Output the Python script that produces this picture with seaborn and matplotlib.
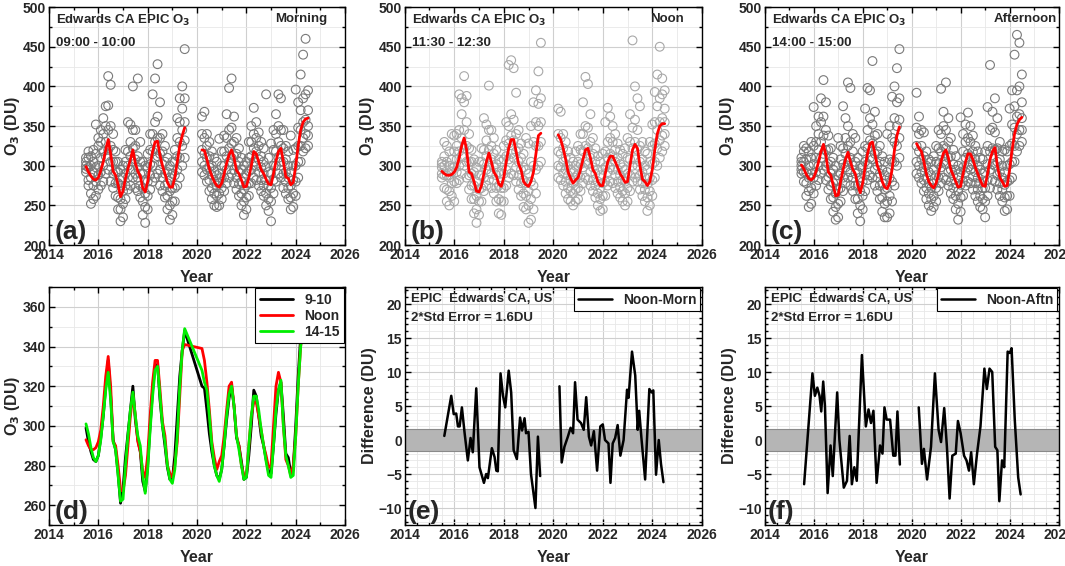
import numpy as np
import matplotlib
matplotlib.use('Agg')
import matplotlib.pyplot as plt
import seaborn as sns
from matplotlib.ticker import MultipleLocator

# sample times (decimal year) for the two EPIC data periods
t1 = np.round(np.arange(2015.5, 2019.55, 0.1), 1)
t2 = np.round(np.arange(2020.2, 2024.55, 0.1), 1)

# smoothed O3 (DU), morning / noon / afternoon
morn_fit1 = [299, 292, 287, 283, 282, 285, 294, 305, 320, 333, 315, 293, 288, 276, 261, 268, 284, 296, 308, 320,
             303, 293, 287, 272, 267, 280, 300, 318, 330, 331, 313, 300, 290, 279, 273, 273, 285, 305, 325, 338, 348]
morn_fit2 = [320, 319, 308, 296, 287, 280, 275, 273, 278, 290, 303, 314, 320, 310, 294, 290, 282, 273, 274, 285, 300, 318,
             315, 305, 295, 290, 283, 277, 276, 290, 306, 318, 322, 305, 286, 284, 276, 279, 300, 325, 345, 355, 359, 360]
noon_fit1 = [293, 290, 288, 288, 289, 292, 298, 310, 325, 335, 320, 292, 290, 280, 268, 267, 275, 290, 305, 316,
             305, 292, 287, 277, 274, 285, 305, 322, 333, 333, 318, 302, 295, 280, 276, 274, 280, 292, 315, 338, 341]
noon_fit2 = [339, 333, 322, 308, 292, 284, 278, 282, 285, 295, 308, 320, 322, 310, 295, 290, 280, 275, 275, 290, 305, 312,
             312, 305, 298, 290, 285, 279, 280, 300, 320, 327, 322, 300, 283, 280, 275, 280, 295, 320, 340, 350, 353, 353]
aftn_fit1 = [301, 296, 289, 284, 282, 285, 293, 305, 318, 327, 313, 292, 288, 275, 262, 263, 280, 295, 308, 317,
             305, 295, 290, 275, 266, 278, 298, 315, 328, 330, 315, 300, 292, 280, 273, 271, 278, 295, 320, 338, 349]
aftn_fit2 = [328, 322, 318, 305, 290, 280, 275, 272, 278, 290, 305, 316, 320, 310, 295, 288, 280, 273, 274, 290, 305, 315,
             315, 308, 298, 290, 282, 275, 274, 290, 308, 318, 323, 300, 285, 280, 274, 275, 295, 320, 340, 352, 358, 361]

# individual observations, five read per sample time
morn_obs1 = [
    [300, 296, 305, 292, 310], [282, 298, 310, 275, 318], [265, 285, 300, 252, 312], [258, 275, 292, 305, 320],
    [262, 280, 298, 315, 352], [270, 288, 300, 325, 335], [275, 292, 310, 330, 345], [280, 300, 318, 340, 360],
    [290, 312, 330, 350, 375], [295, 320, 345, 376, 413], [280, 305, 325, 350, 402], [272, 290, 305, 320, 340],
    [262, 278, 292, 305, 318], [245, 260, 278, 292, 305], [230, 245, 258, 275, 295], [235, 252, 268, 285, 300],
    [258, 275, 290, 305, 320], [270, 285, 300, 318, 355], [275, 295, 312, 330, 352], [285, 305, 322, 345, 400],
    [272, 290, 308, 325, 345], [268, 285, 298, 312, 410], [260, 275, 290, 305, 330], [238, 255, 272, 290, 305],
    [228, 248, 265, 282, 300], [245, 262, 280, 298, 315], [270, 288, 302, 320, 340], [280, 300, 318, 340, 390],
    [285, 310, 330, 355, 410], [290, 312, 335, 362, 428], [275, 295, 315, 335, 380], [268, 285, 302, 318, 340],
    [260, 275, 290, 305, 325], [245, 262, 278, 292, 310], [232, 250, 268, 285, 300], [238, 255, 272, 290, 305],
    [255, 272, 288, 305, 320], [275, 295, 312, 335, 360], [285, 310, 330, 355, 385], [300, 325, 345, 372, 400],
    [310, 332, 355, 385, 447]]
morn_obs2 = [
    [292, 305, 320, 340, 362], [288, 300, 315, 335, 368], [280, 295, 310, 325, 340], [268, 282, 298, 312, 330],
    [258, 272, 288, 300, 318], [250, 265, 280, 293, 310], [248, 262, 275, 288, 305], [250, 265, 278, 290, 334],
    [258, 272, 285, 300, 318], [268, 285, 300, 318, 338], [278, 295, 312, 335, 365], [285, 305, 322, 345, 398],
    [290, 310, 328, 348, 410], [278, 295, 312, 330, 362], [270, 285, 300, 315, 335], [262, 277, 292, 305, 322],
    [250, 265, 280, 295, 310], [238, 255, 270, 285, 300], [245, 260, 275, 290, 305], [262, 278, 293, 310, 330],
    [278, 295, 312, 330, 350], [285, 305, 322, 340, 373], [282, 300, 318, 335, 355], [275, 292, 308, 325, 342],
    [268, 282, 298, 312, 330], [262, 275, 290, 305, 322], [250, 265, 282, 298, 390], [243, 258, 275, 292, 310],
    [230, 255, 272, 290, 328], [265, 282, 300, 320, 345], [280, 300, 318, 340, 365], [290, 310, 330, 350, 390],
    [285, 305, 325, 345, 385], [272, 290, 305, 322, 345], [265, 280, 292, 308, 325], [258, 272, 285, 300, 318],
    [245, 260, 275, 292, 338], [248, 265, 282, 300, 320], [262, 280, 300, 322, 396], [285, 305, 325, 348, 380],
    [305, 325, 345, 370, 415], [318, 335, 355, 385, 440], [322, 340, 358, 390, 460], [325, 338, 350, 370, 395]]
noon_obs1 = [
    [290, 298, 305, 285, 302], [272, 288, 300, 312, 330], [255, 270, 288, 305, 325], [250, 268, 285, 300, 318],
    [262, 278, 292, 308, 340], [255, 280, 298, 318, 338], [278, 292, 308, 325, 340], [282, 300, 318, 345, 390],
    [290, 312, 335, 365, 385], [300, 322, 345, 380, 413], [285, 305, 325, 355, 388], [270, 288, 305, 322, 340],
    [258, 275, 290, 305, 320], [240, 258, 275, 292, 308], [228, 245, 262, 280, 298], [238, 255, 270, 288, 305],
    [255, 272, 288, 305, 322], [268, 285, 302, 320, 360], [275, 295, 312, 332, 352], [282, 300, 320, 345, 401],
    [272, 290, 308, 325, 345], [265, 282, 298, 315, 335], [255, 272, 288, 302, 320], [240, 258, 275, 292, 308],
    [238, 255, 272, 290, 305], [255, 272, 290, 308, 325], [275, 295, 312, 332, 355], [285, 308, 328, 350, 427],
    [290, 315, 338, 365, 433], [288, 310, 332, 358, 423], [280, 298, 318, 340, 392], [270, 288, 305, 322, 345],
    [262, 278, 295, 310, 328], [248, 265, 282, 298, 315], [245, 262, 278, 295, 335], [228, 250, 268, 290, 328],
    [232, 258, 280, 305, 350], [245, 275, 300, 330, 380], [265, 295, 325, 355, 395], [300, 325, 350, 378, 419],
    [305, 330, 355, 385, 455]]
noon_obs2 = [
    [285, 300, 318, 340, 372], [282, 298, 315, 335, 368], [275, 290, 305, 322, 340], [265, 280, 295, 310, 330],
    [258, 272, 288, 300, 318], [255, 268, 282, 295, 310], [250, 265, 278, 292, 305], [255, 270, 285, 300, 318],
    [258, 272, 288, 305, 325], [268, 285, 302, 320, 340], [278, 298, 318, 340, 380], [285, 305, 325, 350, 412],
    [282, 302, 322, 348, 403], [275, 292, 310, 330, 365], [268, 282, 298, 315, 335], [260, 275, 290, 305, 322],
    [250, 265, 280, 295, 312], [243, 258, 272, 288, 305], [245, 262, 278, 295, 315], [262, 280, 298, 318, 355],
    [275, 292, 310, 330, 373], [280, 298, 315, 335, 362], [278, 295, 312, 330, 350], [272, 288, 305, 320, 340],
    [265, 280, 295, 310, 328], [260, 273, 288, 302, 320], [255, 268, 282, 298, 315], [250, 265, 280, 295, 322],
    [255, 272, 290, 310, 335], [268, 288, 308, 330, 365], [280, 300, 322, 348, 458], [285, 308, 330, 358, 400],
    [280, 300, 320, 345, 385], [270, 288, 305, 325, 375], [262, 278, 292, 308, 330], [255, 270, 285, 300, 318],
    [243, 260, 277, 295, 315], [250, 268, 285, 305, 330], [262, 282, 302, 325, 352], [285, 305, 328, 355, 393],
    [300, 322, 345, 375, 415], [310, 332, 355, 385, 450], [318, 338, 360, 390, 410], [325, 340, 355, 372, 395]]
aftn_obs1 = [
    [295, 300, 305, 290, 310], [280, 292, 305, 318, 325], [262, 278, 292, 308, 322], [248, 268, 285, 300, 318],
    [252, 272, 290, 310, 330], [265, 285, 302, 325, 374], [275, 292, 310, 330, 350], [282, 300, 320, 340, 362],
    [290, 310, 330, 355, 385], [295, 315, 338, 362, 408], [282, 300, 320, 345, 380], [270, 286, 302, 320, 338],
    [258, 275, 290, 305, 322], [242, 260, 278, 295, 310], [232, 248, 265, 282, 300], [235, 252, 270, 288, 335],
    [255, 272, 290, 308, 325], [268, 285, 302, 322, 375], [278, 298, 315, 335, 360], [285, 305, 325, 350, 405],
    [275, 292, 310, 330, 398], [268, 285, 300, 318, 340], [258, 275, 290, 305, 335], [240, 258, 275, 292, 310],
    [230, 250, 268, 285, 300], [245, 262, 280, 298, 318], [268, 288, 305, 325, 372], [282, 302, 322, 345, 398],
    [288, 310, 332, 360, 395], [285, 308, 328, 352, 432], [275, 295, 315, 338, 368], [268, 285, 300, 318, 340],
    [258, 275, 290, 305, 325], [242, 260, 278, 295, 312], [235, 252, 270, 288, 305], [235, 255, 272, 292, 340],
    [240, 262, 285, 308, 350], [255, 280, 305, 335, 387], [275, 305, 330, 360, 400], [300, 325, 350, 380, 423],
    [310, 335, 358, 385, 447]]
aftn_obs2 = [
    [290, 305, 325, 348, 392], [285, 300, 318, 340, 362], [278, 292, 308, 325, 345], [268, 282, 298, 312, 342],
    [258, 272, 285, 300, 318], [250, 265, 278, 292, 308], [243, 258, 272, 288, 305], [248, 262, 278, 295, 312],
    [255, 272, 288, 305, 325], [268, 285, 302, 322, 345], [278, 298, 318, 340, 397], [285, 305, 325, 350, 368],
    [282, 302, 322, 345, 405], [275, 292, 310, 330, 360], [265, 280, 295, 312, 335], [258, 272, 288, 302, 320],
    [245, 262, 278, 295, 312], [232, 252, 268, 285, 300], [242, 260, 276, 292, 361], [262, 280, 298, 318, 340],
    [275, 292, 310, 330, 352], [280, 298, 315, 335, 367], [278, 295, 312, 330, 350], [270, 286, 302, 318, 338],
    [262, 278, 292, 308, 325], [255, 270, 285, 300, 318], [248, 262, 278, 295, 310], [245, 258, 272, 290, 308],
    [235, 255, 272, 292, 318], [262, 282, 302, 325, 374], [272, 295, 318, 345, 427], [282, 302, 322, 348, 368],
    [280, 300, 320, 342, 385], [270, 288, 305, 322, 360], [262, 278, 292, 308, 330], [255, 270, 285, 300, 318],
    [243, 260, 276, 292, 320], [245, 262, 280, 300, 318], [262, 282, 302, 325, 372], [285, 305, 328, 352, 395],
    [305, 325, 348, 375, 440], [318, 340, 362, 395, 465], [325, 345, 365, 400, 455], [330, 345, 360, 380, 415]]

# Noon minus Morning difference (DU)
nm_t1 = [2015.6, 2015.88, 2015.98, 2016.08, 2016.15, 2016.22, 2016.31, 2016.42, 2016.55, 2016.66, 2016.75, 2016.89,
         2017.02, 2017.2, 2017.29, 2017.36, 2017.52, 2017.63, 2017.7, 2017.76, 2017.87, 2017.97, 2018.06, 2018.2,
         2018.3, 2018.4, 2018.53, 2018.66, 2018.74, 2018.84, 2018.9, 2019.0, 2019.1, 2019.28, 2019.38, 2019.47]
nm_d1 = [0.6, 6.5, 3.8, 3.9, 2.0, 2.0, 4.8, 1.0, -3.0, 0.3, -1.8, 7.6,
         -4.0, -6.3, -5.0, -5.6, -1.2, -2.5, -4.5, -4.6, 9.8, 6.5, 4.8, 10.2,
         7.0, -1.5, -2.8, 3.3, 1.4, 3.2, 1.0, 1.2, -5.0, -10.0, 0.5, -5.3]
nm_t2 = [2020.25, 2020.34, 2020.45, 2020.59, 2020.7, 2020.8, 2020.88, 2020.98, 2021.12, 2021.23, 2021.33, 2021.44,
         2021.53, 2021.64, 2021.77, 2021.9, 2022.0, 2022.09, 2022.23, 2022.31, 2022.4, 2022.5, 2022.6, 2022.71,
         2022.84, 2022.98, 2023.04, 2023.18, 2023.31, 2023.41, 2023.47, 2023.56, 2023.71, 2023.88, 2023.97, 2024.04,
         2024.15, 2024.26, 2024.35, 2024.45]
nm_d2 = [7.9, -3.3, -1.0, 0.5, 1.8, 1.0, 8.5, 3.0, 2.5, 1.5, 6.3, 0.5,
         -0.8, 1.3, -4.5, 2.0, 2.3, 0.0, -0.5, -6.3, -0.5, 0.3, 2.2, -2.3,
         0.0, 7.4, 6.2, 13.0, 9.5, 1.5, 4.3, 0.3, -5.8, 7.5, 7.0, 7.3,
         -5.1, 0.0, -3.5, -6.2]

# Noon minus Afternoon difference (DU)
na_t1 = [2015.61, 2015.95, 2016.05, 2016.15, 2016.24, 2016.31, 2016.39, 2016.46, 2016.57, 2016.69, 2016.78, 2016.96,
         2017.05, 2017.23, 2017.36, 2017.47, 2017.56, 2017.66, 2017.76, 2017.97, 2018.13, 2018.24, 2018.34, 2018.44,
         2018.57, 2018.71, 2018.81, 2018.89, 2018.98, 2019.12, 2019.25, 2019.34, 2019.42, 2019.52]
na_d1 = [-6.5, 9.8, 6.5, 7.7, 6.5, 4.2, 8.6, 5.0, -7.8, -0.8, -5.3, 7.0,
         0.0, -7.0, -6.0, 0.6, -6.5, -4.0, -6.0, 12.5, 2.0, 4.5, 2.5, 4.3,
         -6.3, -0.8, -2.0, 4.8, 3.0, 3.0, -2.3, -2.3, 4.2, -3.6]
na_t2 = [2020.29, 2020.42, 2020.5, 2020.63, 2020.79, 2020.95, 2021.1, 2021.2, 2021.33, 2021.44, 2021.55, 2021.66,
         2021.8, 2021.89, 2022.0, 2022.14, 2022.24, 2022.34, 2022.43, 2022.54, 2022.67, 2022.81, 2022.97, 2023.07,
         2023.18, 2023.29, 2023.41, 2023.5, 2023.58, 2023.69, 2023.78, 2023.92, 2024.01, 2024.08, 2024.21, 2024.35,
         2024.45]
na_d2 = [4.8, -3.5, -1.3, -5.8, -1.0, 9.8, 1.5, -0.3, 4.7, -1.0, -8.6, -2.3,
         -2.0, 2.8, 1.0, -2.3, -3.0, -4.5, -1.8, -6.5, -2.0, 2.0, 10.5, 7.5,
         10.5, 10.0, -1.0, -1.5, -9.0, -3.0, -4.0, 13.0, 12.8, 13.5, 3.0, -5.5,
         -8.0]

std_err = 1.6

sns.set_theme(style='ticks')
plt.rcParams['font.family'] = ['Liberation Sans', 'DejaVu Sans']
plt.rcParams['font.weight'] = 'bold'
plt.rcParams['axes.labelweight'] = 'bold'

fig = plt.figure(figsize=(10.65, 5.66), dpi=100)
cols = [(0.046, 0.278), (0.380, 0.279), (0.718, 0.276)]
top_b, bot_b, h = 0.567, 0.0724, 0.4205
axes_top = [fig.add_axes([l, top_b, w, h]) for l, w in cols]
axes_bot = [fig.add_axes([l, bot_b, w, h]) for l, w in cols]


def style(ax, ymin, ymax, ymaj, ymin_step):
    ax.set_xlim(2014, 2026)
    ax.set_ylim(ymin, ymax)
    ax.xaxis.set_major_locator(MultipleLocator(2))
    ax.xaxis.set_minor_locator(MultipleLocator(1))
    ax.yaxis.set_major_locator(MultipleLocator(ymaj))
    ax.yaxis.set_minor_locator(MultipleLocator(ymin_step))
    ax.grid(True, which='major', color='#cfcfcf', lw=0.8, zorder=0)
    ax.grid(True, which='minor', color='#e8e8e8', lw=0.6, zorder=0)
    ax.set_axisbelow(True)
    ax.tick_params(which='both', direction='in', top=True, right=True, labelsize=10, width=1,
                   color='black', pad=2)
    ax.tick_params(which='major', length=4)
    ax.tick_params(which='minor', length=2)
    for s in ax.spines.values():
        s.set_color('black')
        s.set_linewidth(1)
    ax.set_xlabel('Year', fontsize=11.5, labelpad=6)


top_info = [
    (morn_obs1, morn_obs2, morn_fit1, morn_fit2, '#7a7a7a', '09:00 - 10:00', 'Morning', 0.94, '(a)'),
    (noon_obs1, noon_obs2, noon_fit1, noon_fit2, '#a8a8a8', '11:30 - 12:30', 'Noon', 0.94, '(b)'),
    (aftn_obs1, aftn_obs2, aftn_fit1, aftn_fit2, '#7a7a7a', '14:00 - 15:00', 'Afternoon', 0.995, '(c)'),
]

for ax, (o1, o2, f1, f2, ec, hours, period, px, tag) in zip(axes_top, top_info):
    for tt, obs, fit in [(t1, o1, f1), (t2, o2, f2)]:
        obs = np.array(obs)
        xs = np.repeat(tt, obs.shape[1])
        sns.scatterplot(x=xs, y=obs.ravel(), ax=ax, marker='o', s=40, facecolors='none',
                        edgecolor=ec, linewidth=0.8, zorder=2)
        sns.lineplot(x=tt, y=fit, ax=ax, color='#ff0000', lw=2, sort=False, estimator=None, zorder=3)
    style(ax, 200, 500, 50, 25)
    ax.set_ylabel(r'O$_\mathbf{3}$ (DU)', fontsize=11.5, labelpad=1)
    ax.text(0.025, 0.975, r'Edwards CA EPIC O$_\mathbf{3}$', transform=ax.transAxes, fontsize=9.5, va='top')
    ax.text(0.025, 0.875, hours, transform=ax.transAxes, fontsize=9.5, va='top')
    ax.text(px, 0.975, period, transform=ax.transAxes, fontsize=9.5, va='top', ha='right')
    ax.text(0.02, 0.005, tag, transform=ax.transAxes, fontsize=19, va='bottom')

# (d) comparison of the three smoothed curves
ax = axes_bot[0]
for f1, f2, c, lab in [(morn_fit1, morn_fit2, 'black', '9-10'), (noon_fit1, noon_fit2, '#ff0000', 'Noon'),
                       (aftn_fit1, aftn_fit2, '#00ee00', '14-15')]:
    sns.lineplot(x=np.concatenate([t1, t2]), y=list(f1) + list(f2), ax=ax, color=c, lw=2,
                 sort=False, estimator=None, label=lab)
style(ax, 250, 370, 20, 10)
ax.set_ylabel(r'O$_\mathbf{3}$ (DU)', fontsize=11.5, labelpad=1)
leg = ax.legend(loc='upper right', fontsize=10, frameon=True, fancybox=False, edgecolor='black',
                borderaxespad=0.1, handlelength=2.4, labelspacing=0.15, borderpad=0.3, framealpha=1)
leg.get_frame().set_linewidth(0.8)
ax.text(0.02, 0.005, '(d)', transform=ax.transAxes, fontsize=19, va='bottom')

diff_info = [
    (axes_bot[1], nm_t1, nm_d1, nm_t2, nm_d2, 'Noon-Morn', '(e)'),
    (axes_bot[2], na_t1, na_d1, na_t2, na_d2, 'Noon-Aftn', '(f)'),
]
for ax, ta, da, tb, db, lab, tag in diff_info:
    ax.axhspan(-std_err, std_err, facecolor='#b5b5b5', edgecolor='#8a8a8a', lw=0.8, zorder=1)
    sns.lineplot(x=ta, y=da, ax=ax, color='black', lw=1.8, sort=False, estimator=None, label=lab, zorder=3)
    sns.lineplot(x=tb, y=db, ax=ax, color='black', lw=1.8, sort=False, estimator=None, zorder=3)
    style(ax, -12.5, 22.5, 5, 1)
    ax.xaxis.set_minor_locator(MultipleLocator(0.5))
    ax.set_ylabel('Difference (DU)', fontsize=11.5, labelpad=1)
    leg = ax.legend(loc='upper right', fontsize=10, frameon=True, fancybox=False, edgecolor='black',
                    borderaxespad=0.1, handlelength=2.4, borderpad=0.3, framealpha=1)
    leg.get_frame().set_linewidth(0.8)
    ax.text(0.02, 0.975, 'EPIC  Edwards CA, US', transform=ax.transAxes, fontsize=9.5, va='top')
    ax.text(0.02, 0.895, '2*Std Error = ' + str(std_err) + 'DU', transform=ax.transAxes, fontsize=9.5, va='top')
    ax.text(0.01, 0.005, tag, transform=ax.transAxes, fontsize=19, va='bottom')

fig.savefig('out.png', dpi=100)
